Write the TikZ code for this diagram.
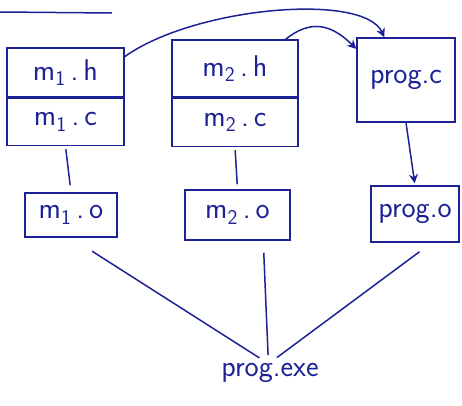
\documentclass[tikz,border=0pt]{standalone}
\usepackage{fontspec}
\usepackage{tikz}
\usetikzlibrary{positioning, arrows.meta, calc}
\definecolor{InkBlue}{RGB}{28,34,150}
\tikzset{
    filebox/.style={
        draw=InkBlue, line width=1.5pt, text=InkBlue, inner sep=1pt,
        font=\fontsize{30}{32}\selectfont\sffamily
    },
    outfile/.style={
        text=InkBlue, inner sep=2pt,
        font=\fontsize{30}{32}\selectfont\sffamily
    },
    dep/.style={
        line width=1.5pt, InkBlue
    },
    build/.style={
        -{Stealth[length=9pt, width=9pt]}, line width=1.5pt, InkBlue
    }
}
\begin{document}
\begin{tikzpicture}[x=1pt, y=-1pt]
    \useasboundingbox (0,0) rectangle (462,405);
    \draw[dep] (0,12) -- (112,13);

    % --- sources ---
    \node[filebox, minimum width=117pt, minimum height=49pt] (m1h) at (65.5,72.5) {m\textsubscript{1}\,.\,h};
    \node[filebox, minimum width=117pt, minimum height=47pt, below=0pt of m1h] (m1c) {m\textsubscript{1}\,.\,c};
    \node[filebox, minimum width=126pt, minimum height=57pt] (m2h) at (235,68.5) {m\textsubscript{2}\,.\,h};
    \node[filebox, minimum width=126pt, minimum height=48pt, below=0pt of m2h] (m2c) {m\textsubscript{2}\,.\,c};
    \node[filebox, minimum width=98pt, minimum height=84pt] (progc) at (406,80) {prog.c};

    % --- objects ---
    \node[filebox, minimum width=92pt, minimum height=44pt] (m1o) at (71,215) {m\textsubscript{1}\,.\,o};
    \node[filebox, minimum width=105pt, minimum height=50pt] (m2o) at (237.5,215) {m\textsubscript{2}\,.\,o};
    \node[filebox, minimum width=88pt, minimum height=56pt] (progo) at (415,214) {prog.o};
    \node[outfile] (progexe) at (270,373) {prog.exe};

    \draw[build] (m1h.15) .. controls +(70,-50) and +(-20,-45) .. (progc.117);
    \draw[build] (m2h.30) .. controls +(25,-20) and +(-25,-25) .. (progc.148);
    \draw[dep, shorten <=3pt, shorten >=7pt] (m1c.south) -- (m1o.north);
    \draw[dep, shorten <=3pt, shorten >=5pt] (m2c.south) -- (m2o.north);
    \draw[build, shorten >=2pt] (progc.south) -- (progo.north);

    \draw[dep, shorten <=25pt, shorten >=6pt] (m1o.south) -- (progexe.115);
    \draw[dep, shorten <=12pt, shorten >=6pt] (m2o.-45) -- (progexe.98);
    \draw[dep, shorten <=15pt, shorten >=6pt] (progo.-60) -- (progexe.80);
\end{tikzpicture}
\end{document}
